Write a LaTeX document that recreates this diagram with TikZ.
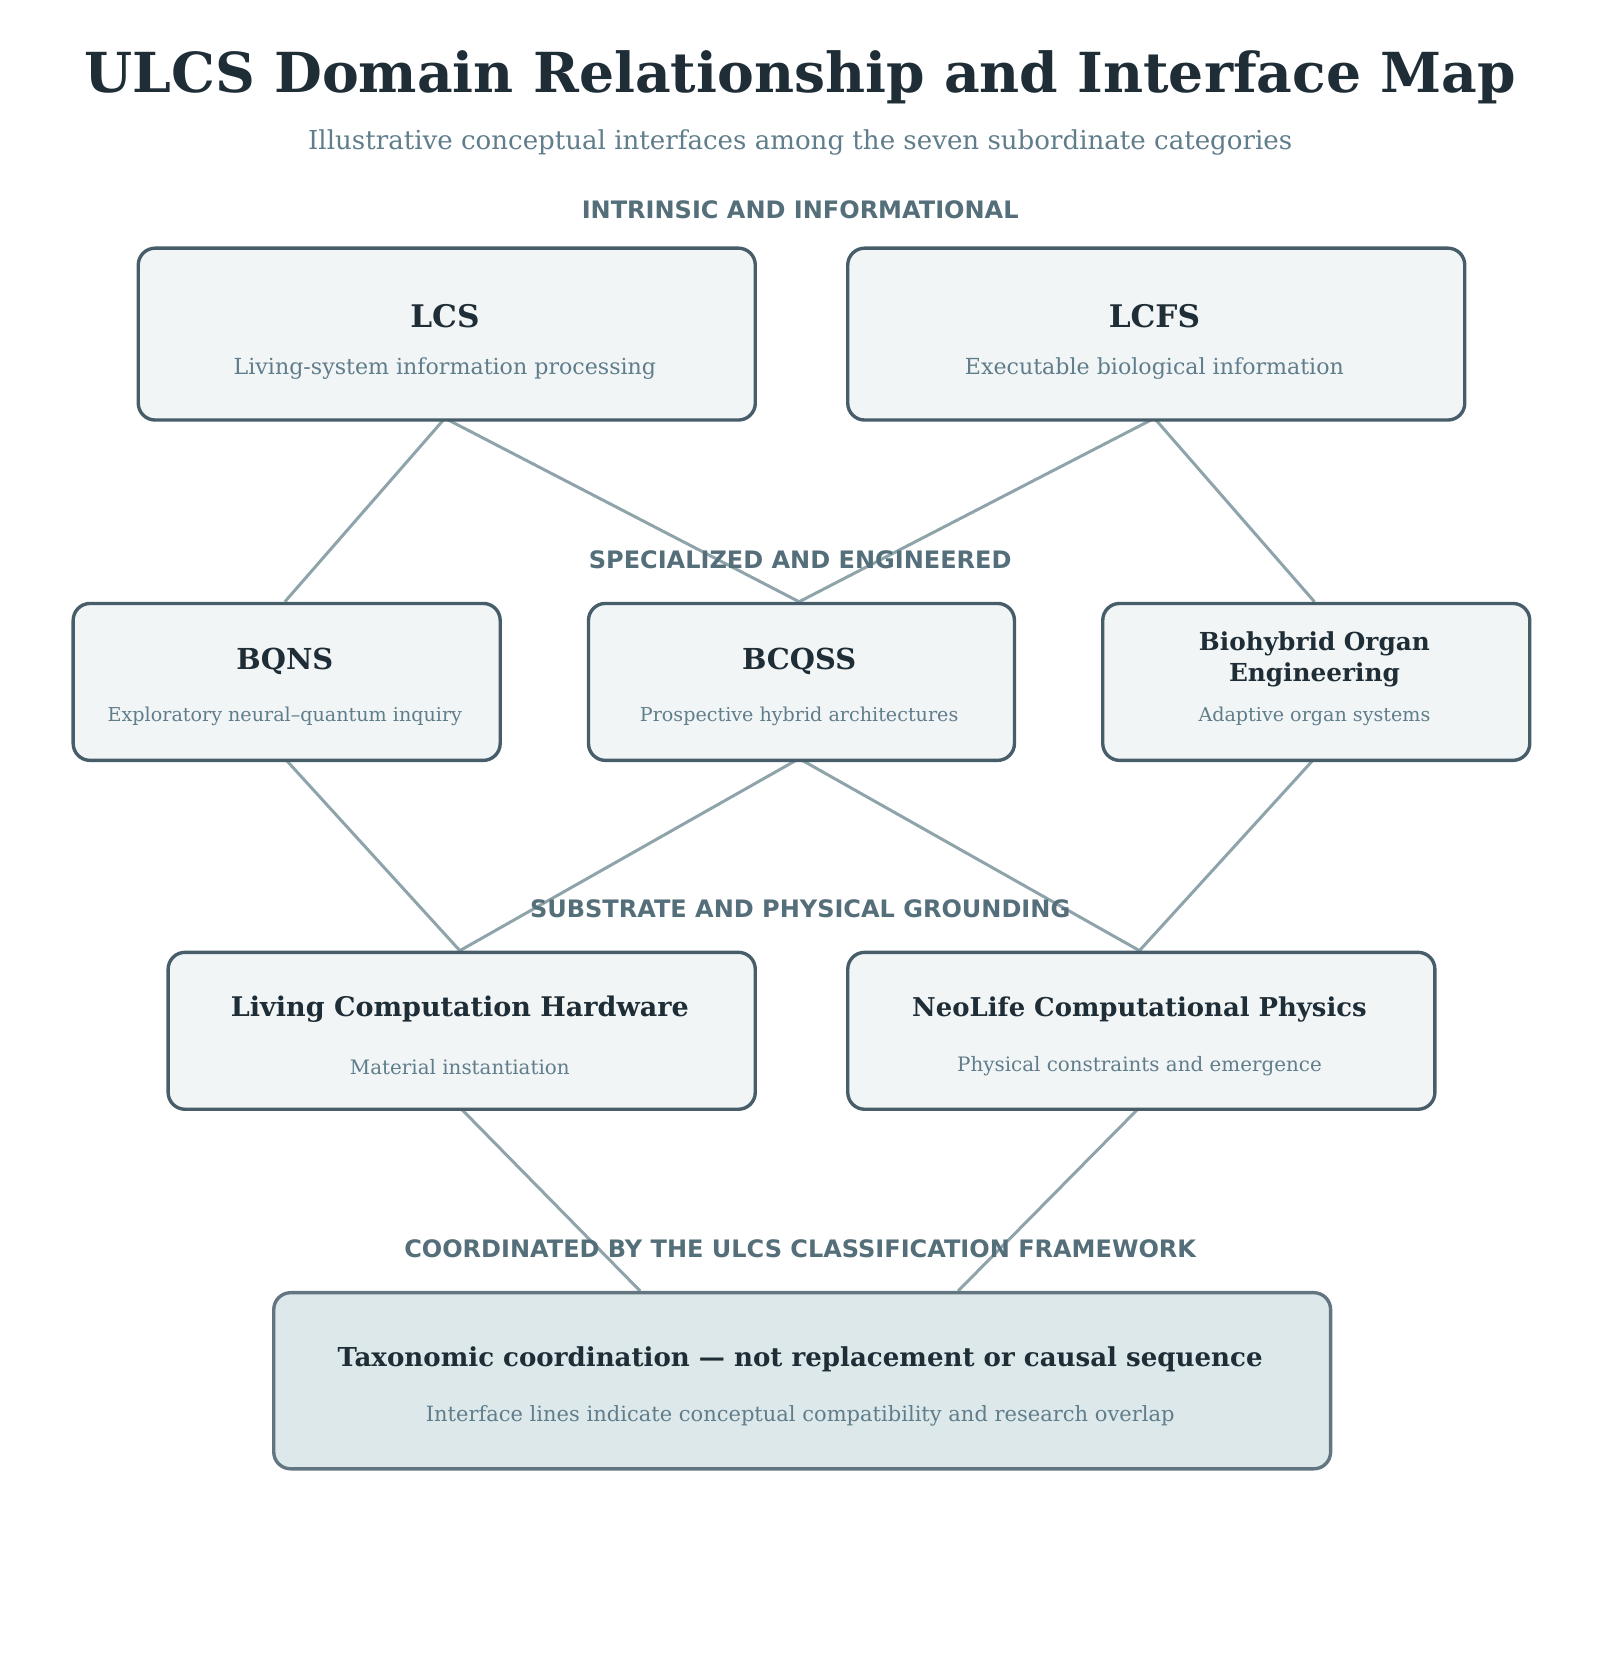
\documentclass[tikz,border=0pt]{standalone}
\usepackage{fontspec}
\setmainfont{DejaVu Serif}
\setsansfont{DejaVu Sans}
\usetikzlibrary{positioning}
\definecolor{ink}{HTML}{1F2D36}
\definecolor{muted}{HTML}{607D8B}
\definecolor{band}{HTML}{546E7A}
\definecolor{edge}{HTML}{475D69}
\definecolor{boxfill}{HTML}{F1F5F6}
\definecolor{basefill}{HTML}{DDE8EA}
\definecolor{link}{HTML}{8FA3AB}
\tikzset{
  domainbox/.style={draw=edge, fill=boxfill, line width=0.9pt, rounded corners=4.5pt, anchor=north west, inner sep=0pt},
  basebox/.style={domainbox, draw=edge!85!white, fill=basefill},
  dname/.style={text=ink, font=\fontsize{8.3}{10}\selectfont\bfseries, align=center},
  dnote/.style={text=muted, font=\fontsize{5.1}{6}\selectfont},
  tier/.style={text=band, font=\sffamily\bfseries\fontsize{6.4}{8}\selectfont},
  iface/.style={draw=link, line width=0.8pt}
}
\begin{document}
\begin{tikzpicture}[x=0.01cm,y=-0.01cm]
  \useasboundingbox (0,0) rectangle (1500,1569);
  % interfaces drawn first, boxes on top
  \coordinate (lcsS) at (417,392);   \coordinate (lcfsS) at (1082,392);
  \coordinate (bqnsN) at (267,564);  \coordinate (bcqssN) at (749,564); \coordinate (bioN) at (1232,564);
  \coordinate (bqnsS) at (267,711);  \coordinate (bcqssS) at (749,711); \coordinate (bioS) at (1232,711);
  \coordinate (lchN) at (431,891);   \coordinate (ncpN) at (1068,891);
  \coordinate (lchS) at (431,1038);  \coordinate (ncpS) at (1068,1038);
  \coordinate (ulcsl) at (600,1210); \coordinate (ulcsr) at (898,1210);
  \draw[iface] (lcsS) -- (bqnsN);
  \draw[iface] (lcsS) -- (bcqssN);
  \draw[iface] (lcfsS) -- (bcqssN);
  \draw[iface] (lcfsS) -- (bioN);
  \draw[iface] (bqnsS) -- (lchN);
  \draw[iface] (bcqssS) -- (lchN);
  \draw[iface] (bcqssS) -- (ncpN);
  \draw[iface] (bioS) -- (ncpN);
  \draw[iface] (lchS) -- (ulcsl);
  \draw[iface] (ncpS) -- (ulcsr);
  % title
  \node[text=ink, font=\fontsize{14.7}{18}\selectfont\bfseries] (title) at (750,72) {ULCS Domain Relationship and Interface Map};
  \node[text=muted, font=\fontsize{6.95}{9}\selectfont] (subtitle) at (750,134) {Illustrative conceptual interfaces among the seven subordinate categories};
  % tier labels
  \node[tier] (t1) at (750,197) {INTRINSIC AND INFORMATIONAL};
  \node[tier] (t2) at (750,525) {SPECIALIZED AND ENGINEERED};
  \node[tier] (t3) at (750,852) {SUBSTRATE AND PHYSICAL GROUNDING};
  \node[tier] (t4) at (750,1170) {COORDINATED BY THE ULCS CLASSIFICATION FRAMEWORK};
  % tier 1
  \node[domainbox, minimum width=5.78cm, minimum height=1.61cm] (lcs) at (128,231) {};
  \node[dname] (lcsn) at (417,296) {LCS};
  \node[dnote, font=\fontsize{5.9}{7}\selectfont] at (417,345) {Living-system information processing};
  \node[domainbox, minimum width=5.78cm, minimum height=1.61cm] (lcfs) at (793,231) {};
  \node[dname] (lcfsn) at (1082,296) {LCFS};
  \node[dnote, font=\fontsize{5.9}{7}\selectfont] at (1082,345) {Executable biological information};
  % tier 2
  \node[domainbox, minimum width=4cm, minimum height=1.47cm] (bqns) at (67,564) {};
  \node[dname, font=\fontsize{7.7}{9}\selectfont\bfseries] at (267,620) {BQNS};
  \node[dnote] at (267,671) {Exploratory neural–quantum inquiry};
  \node[domainbox, minimum width=3.99cm, minimum height=1.47cm] (bcqss) at (550,564) {};
  \node[dname, font=\fontsize{7.7}{9}\selectfont\bfseries] at (749,620) {BCQSS};
  \node[dnote] at (749,671) {Prospective hybrid architectures};
  \node[domainbox, minimum width=4cm, minimum height=1.47cm] (bio) at (1032,564) {};
  \node[dname, font=\fontsize{6.6}{8.2}\selectfont\bfseries] at (1232,618) {Biohybrid Organ\\Engineering};
  \node[dnote] at (1232,671) {Adaptive organ systems};
  % tier 3
  \node[domainbox, minimum width=5.5cm, minimum height=1.47cm] (lch) at (156,891) {};
  \node[dname, font=\fontsize{7.2}{9}\selectfont\bfseries] at (431,946) {Living Computation Hardware};
  \node[dnote, font=\fontsize{5.3}{7}\selectfont] at (431,1000) {Material instantiation};
  \node[domainbox, minimum width=5.5cm, minimum height=1.47cm] (ncp) at (793,891) {};
  \node[dname, font=\fontsize{6.9}{9}\selectfont\bfseries] at (1068,946) {NeoLife Computational Physics};
  \node[dnote, font=\fontsize{5.3}{7}\selectfont] at (1068,999) {Physical constraints and emergence};
  % framework
  \node[basebox, minimum width=9.9cm, minimum height=1.65cm] (ulcs) at (255,1210) {};
  \node[dname, font=\fontsize{6.95}{9}\selectfont\bfseries] at (750,1274) {Taxonomic coordination — not replacement or causal sequence};
  \node[dnote, font=\fontsize{5.6}{7}\selectfont] at (750,1327) {Interface lines indicate conceptual compatibility and research overlap};
\end{tikzpicture}
\end{document}
